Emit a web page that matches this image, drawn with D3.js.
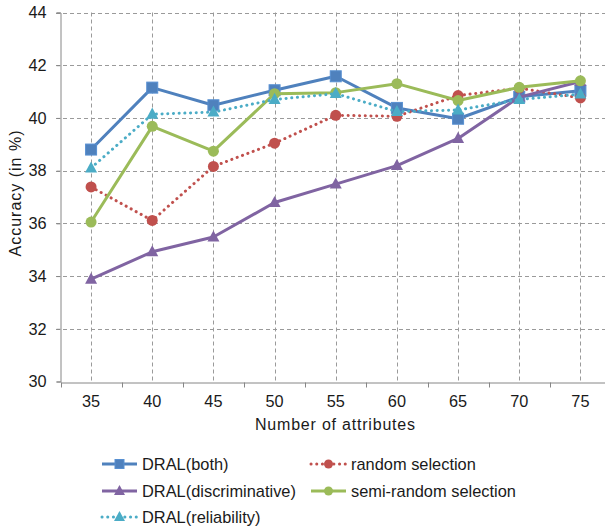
<!DOCTYPE html>
<html>
<head>
<meta charset="utf-8">
<script src="https://cdn.jsdelivr.net/npm/d3@7"></script>
<style>
  html, body { margin: 0; padding: 0; background: #fff; }
  svg { display: block; }
  text { font-family: "Liberation Sans", Arial, sans-serif; fill: #1a1a1a; }
</style>
</head>
<body>
<script>
// ---- data ----
const categories = [35, 40, 45, 50, 55, 60, 65, 70, 75];
const yTicks = [30, 32, 34, 36, 38, 40, 42, 44];
const dralBoth = [38.8, 41.15, 40.48, 41.05, 41.58, 40.38, 39.97, 40.8, 41.03];
const randomSel = [37.38, 36.11, 38.16, 39.04, 40.1, 40.06, 40.85, 41.13, 40.76];
const dralDisc = [33.88, 34.92, 35.48, 36.79, 37.49, 38.19, 39.22, 40.79, 41.38];
const semiRandom = [36.05, 39.68, 38.74, 40.92, 40.96, 41.3, 40.66, 41.16, 41.41];
const dralRel = [38.1, 40.14, 40.22, 40.7, 40.92, 40.24, 40.3, 40.7, 40.9];
const seriesNames = ["DRAL(both)", "random selection", "DRAL(discriminative)", "semi-random selection", "DRAL(reliability)"];
const seriesColors = ["#4F81BD", "#C0504D", "#8064A2", "#9BBB59", "#4BACC6"];

const series = [
  { name: seriesNames[0], values: dralBoth, color: seriesColors[0], marker: "square", dotted: false },
  { name: seriesNames[1], values: randomSel, color: seriesColors[1], marker: "circle", dotted: true },
  { name: seriesNames[2], values: dralDisc, color: seriesColors[2], marker: "triangle", dotted: false },
  { name: seriesNames[3], values: semiRandom, color: seriesColors[3], marker: "circle", dotted: false },
  { name: seriesNames[4], values: dralRel, color: seriesColors[4], marker: "triangle", dotted: true }
];

const W = 605, H = 527;
const svg = d3.select("body").append("svg").attr("width", W).attr("height", H);
svg.append("rect").attr("width", W).attr("height", H).attr("fill", "#fff");

const x = d3.scaleBand().domain(categories).range([60.5, 611]).padding(0);
const y = d3.scaleLinear().domain([30, 44]).range([381.5, 12.5]);
const cx = d => x(d) + x.bandwidth() / 2;

// gridlines
const grid = svg.append("g");
grid.selectAll("line.h").data(yTicks.filter(t => t !== 30)).join("line")
  .attr("x1", 56).attr("x2", W)
  .attr("y1", d => Math.round(y(d)) + 0.5).attr("y2", d => Math.round(y(d)) + 0.5)
  .attr("stroke", "#9a9a9a").attr("stroke-width", 1).attr("stroke-dasharray", "4,3");
grid.selectAll("line.v").data(categories).join("line")
  .attr("x1", d => Math.round(cx(d)) + 0.5).attr("x2", d => Math.round(cx(d)) + 0.5)
  .attr("y1", y(44)).attr("y2", y(30))
  .attr("stroke", "#9a9a9a").attr("stroke-width", 1).attr("stroke-dasharray", "4,3");

// axes
const yAxis = d3.axisLeft(y).tickValues(yTicks).tickSize(4).tickPadding(10).tickFormat(d3.format("d"));
const gy = svg.append("g").attr("transform", "translate(60.5,0)").call(yAxis);
gy.select(".domain").attr("stroke", "#868686");
gy.selectAll(".tick line").attr("stroke", "#868686");
gy.selectAll(".tick text").attr("font-size", 16.3).style("fill", "#1a1a1a");

const xAxis = d3.axisBottom(x).tickSize(0).tickPadding(13).tickSizeOuter(0);
const gx = svg.append("g").attr("transform", `translate(0,${Math.round(y(30)) + 0.5})`).call(xAxis);
gx.select(".domain").attr("stroke", "#868686");
gx.selectAll(".tick text").attr("font-size", 16.3).style("fill", "#1a1a1a");
// tick marks at band boundaries
gx.selectAll("line.bt").data(categories).join("line")
  .attr("x1", d => Math.round(x(d)) + 0.5).attr("x2", d => Math.round(x(d)) + 0.5)
  .attr("y1", 0).attr("y2", 5).attr("stroke", "#868686");

// axis titles
svg.append("text").attr("x", 335).attr("y", 430).attr("text-anchor", "middle")
  .attr("font-size", 16).attr("textLength", 160).text("Number of attributes");
svg.append("text").attr("transform", "translate(21,193.5) rotate(-90)").attr("text-anchor", "middle")
  .attr("font-size", 16).attr("textLength", 126).text("Accuracy (in %)");

// marker drawing
function drawMarker(g, type, px, py, color, s) {
  if (type === "square") {
    g.append("rect").attr("x", px - s / 2).attr("y", py - s / 2).attr("width", s).attr("height", s)
      .attr("fill", color).attr("stroke", d3.color(color).brighter(0.3)).attr("stroke-width", 1);
  } else if (type === "circle") {
    g.append("circle").attr("cx", px).attr("cy", py).attr("r", s / 2).attr("fill", color);
  } else {
    const h = s * 0.92;
    g.append("path").attr("d", `M${px},${py - h * 0.6}L${px + s / 2},${py + h * 0.4}L${px - s / 2},${py + h * 0.4}Z`)
      .attr("fill", color);
  }
}

const line = d3.line().x((d, i) => cx(categories[i])).y(d => y(d));

series.forEach(s => {
  const g = svg.append("g");
  g.append("path").datum(s.values).attr("d", line).attr("fill", "none")
    .attr("stroke", s.color).attr("stroke-width", 3)
    .attr("stroke-linecap", s.dotted ? "round" : "butt")
    .attr("stroke-linejoin", "round")
    .attr("stroke-dasharray", s.dotted ? "0.1,5.6" : null);
  s.values.forEach((v, i) => drawMarker(g, s.marker, cx(categories[i]), y(v), s.color,
    s.marker === "square" ? 11 : s.marker === "circle" ? 11 : 12));
});

// legend
const legendPos = [
  { lx: 102, ly: 464 }, { lx: 311, ly: 464 },
  { lx: 102, ly: 491 }, { lx: 311, ly: 491 },
  { lx: 102, ly: 517 }
];
series.forEach((s, i) => {
  const p = legendPos[i];
  const g = svg.append("g");
  g.append("line").attr("x1", p.lx).attr("x2", p.lx + 35).attr("y1", p.ly).attr("y2", p.ly)
    .attr("stroke", s.color).attr("stroke-width", 3)
    .attr("stroke-linecap", s.dotted ? "round" : "butt")
    .attr("stroke-dasharray", s.dotted ? "0.1,5.6" : null);
  drawMarker(g, s.marker, p.lx + 17.5, p.ly, s.color, s.marker === "triangle" ? 11 : 9);
  g.append("text").attr("x", p.lx + 40).attr("y", p.ly + 6).attr("font-size", 16.4).text(s.name);
});
</script>
</body>
</html>
